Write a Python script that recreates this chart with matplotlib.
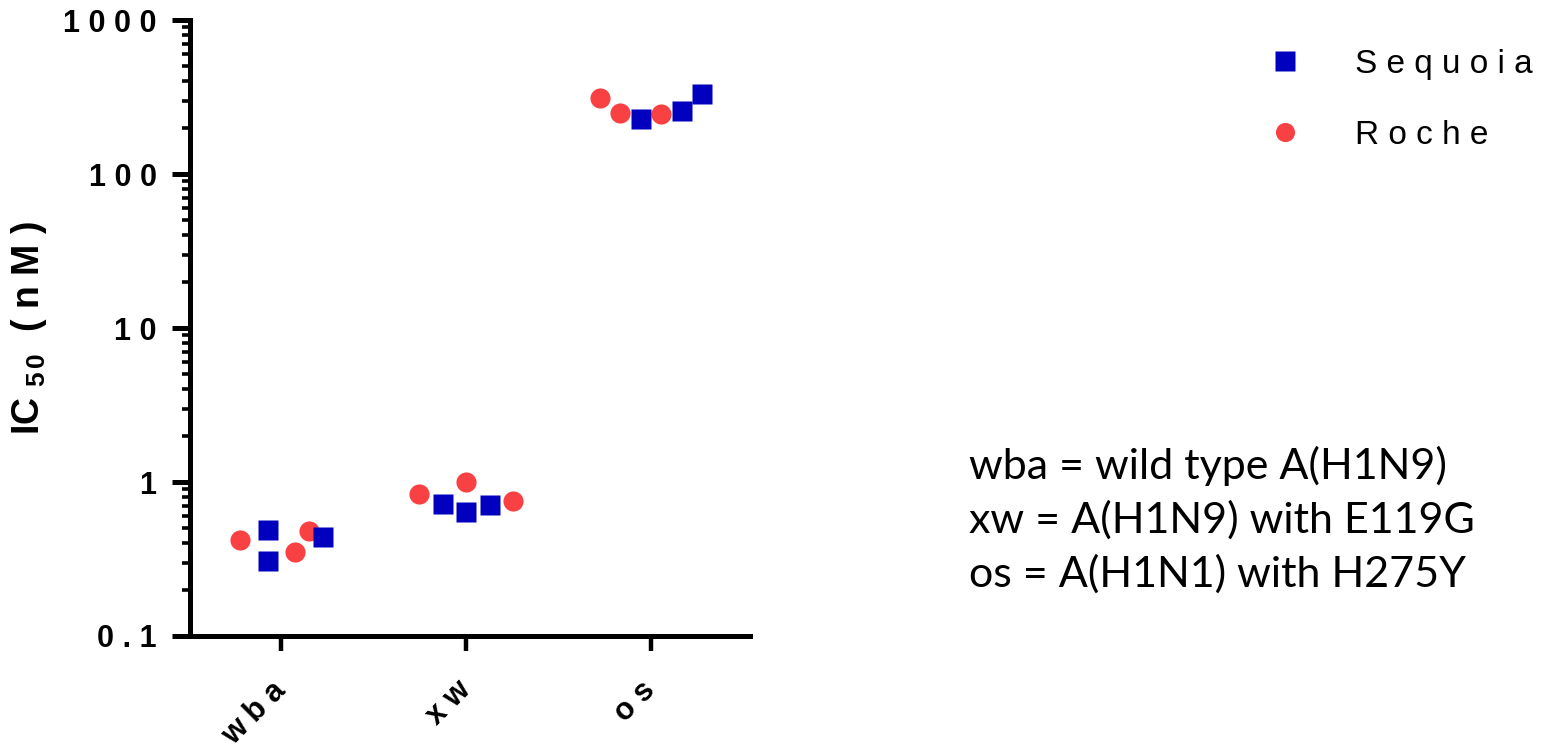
import numpy as np
import matplotlib
matplotlib.use("Agg")
import matplotlib.pyplot as plt
from matplotlib.ticker import LogLocator, FixedLocator, NullFormatter

# data
groups = ['wba', 'xw', 'os']
sequoia_vals = [[0.491, 0.309, 0.441], [0.722, 0.640, 0.711], [227, 255, 330]]
sequoia_jit = [[-0.07, -0.07, 0.227], [-0.124, 0.0, 0.13], [-0.054, 0.168, 0.276]]
roche_vals = [[0.417, 0.350, 0.480], [0.830, 1.0, 0.758], [312, 248, 244]]
roche_jit = [[-0.222, 0.076, 0.151], [-0.254, 0.0, 0.254], [-0.276, -0.168, 0.054]]
ytick_vals = [0.1, 1, 10, 100, 1000]
ytick_labels = ['0.1', '1', '10', '100', '1000']
notes = ['wba = wild type A(H1N9)', 'xw = A(H1N9) with E119G', 'os = A(H1N1) with H275Y']

BLUE = '#0000BE'
RED = '#F94144'


def spaced(s):
    # letter spacing like the original graph
    return ' '.join(s)


plt.rcParams['font.family'] = ['Liberation Sans', 'DejaVu Sans']
plt.rcParams['mathtext.fontset'] = 'custom'
plt.rcParams['mathtext.rm'] = 'Liberation Sans:bold'
plt.rcParams['mathtext.it'] = 'Liberation Sans:bold'
plt.rcParams['mathtext.bf'] = 'Liberation Sans:bold'

fig = plt.figure(figsize=(15.48, 7.47), dpi=100)
ax = fig.add_axes([0.1227, 0.1486, 0.3618, 0.8246])

for i in range(len(groups)):
    xs = i + np.array(roche_jit[i])
    ax.plot(xs, roche_vals[i], 'o', color=RED, ms=14.5, mec='none',
            label='Roche' if i == 0 else None)
    xs = i + np.array(sequoia_jit[i])
    ax.plot(xs, sequoia_vals[i], 's', color=BLUE, ms=14.5, mec='none',
            label='Sequoia' if i == 0 else None)

ax.set_yscale('log')
ax.set_ylim(0.1, 1000)
ax.set_xlim(-0.492, 2.535)

ax.yaxis.set_major_locator(FixedLocator(ytick_vals))
ax.set_yticklabels([spaced(t) for t in ytick_labels], fontsize=22, fontweight='bold')
ax.yaxis.set_minor_locator(LogLocator(base=10, subs=np.arange(2, 10)))
ax.yaxis.set_minor_formatter(NullFormatter())

ax.set_xticks(range(len(groups)))
ax.set_xticklabels([spaced(g) for g in groups], fontsize=22, fontweight='bold',
                   rotation=45, ha='right', va='center', rotation_mode='anchor')

ax.tick_params(axis='y', which='major', direction='out', length=13, width=3.6, pad=11)
ax.tick_params(axis='y', which='minor', direction='out', length=6, width=2.6)
ax.tick_params(axis='x', which='major', direction='out', length=11, width=3.2, pad=25)

for side in ['top', 'right']:
    ax.spines[side].set_visible(False)
for side in ['left', 'bottom']:
    ax.spines[side].set_linewidth(3.6)

ax.set_ylabel('IC $_{5\\,0}$  ( n M )', fontsize=27, fontweight='bold', labelpad=10)

handles, labels = ax.get_legend_handles_labels()
order = [1, 0]
fig.legend([handles[k] for k in order], [spaced(labels[k]) for k in order],
           loc='upper left', bbox_to_anchor=(0.800, 0.975), frameon=False,
           fontsize=24, handlelength=1.0, handletextpad=1.6, labelspacing=1.2,
           markerscale=0.95)

fig.text(0.626, 0.304, '\n'.join(notes), fontsize=31, family=['Lato', 'DejaVu Sans'],
         linespacing=1.45, ha='left', va='center')

fig.savefig('out.png', dpi=100)
